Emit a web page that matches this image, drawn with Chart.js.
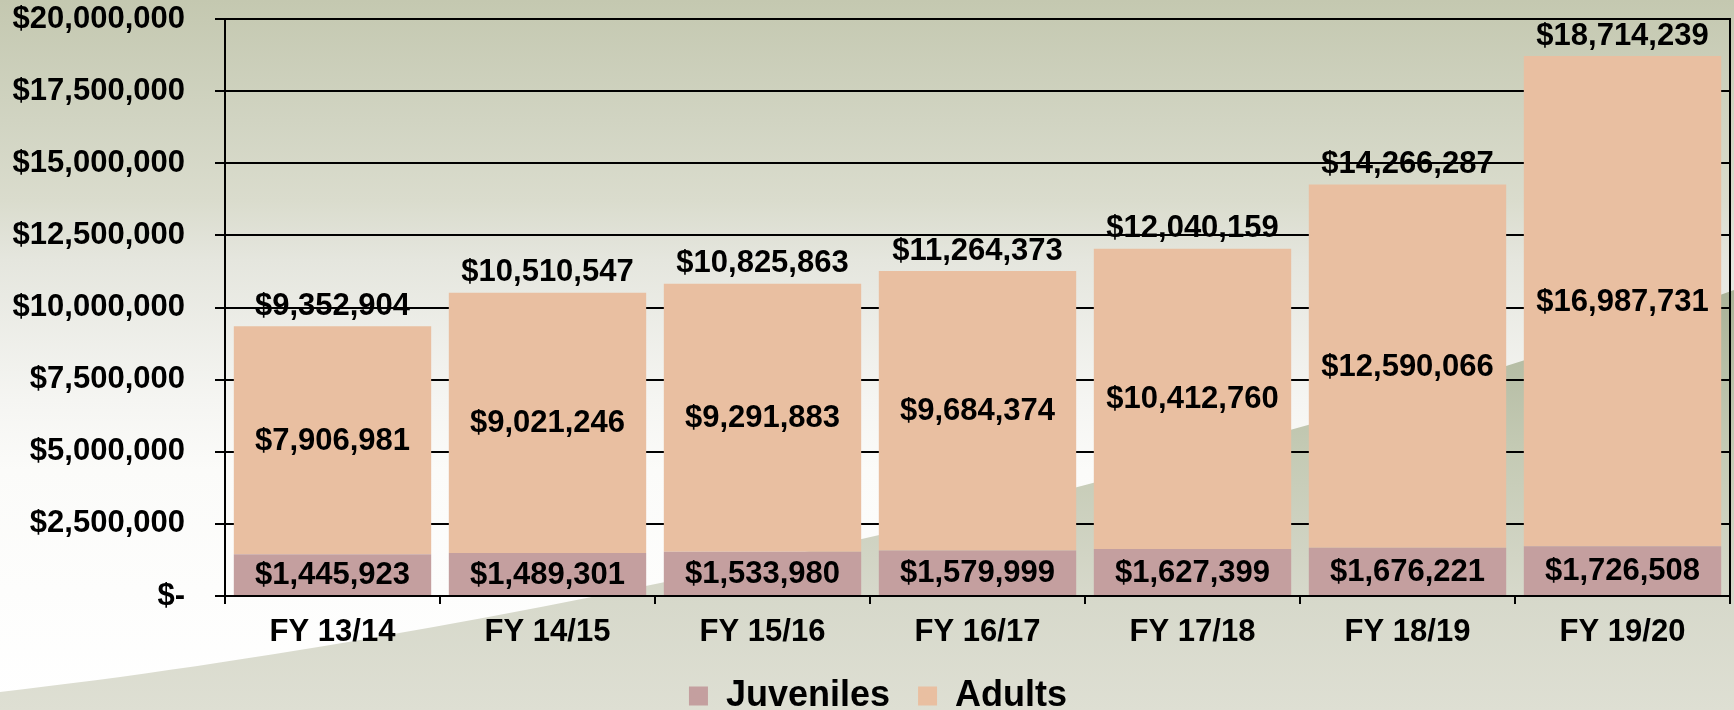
<!DOCTYPE html>
<html>
<head>
<meta charset="utf-8">
<script src="https://cdn.jsdelivr.net/npm/chart.js@4.4.0/dist/chart.umd.min.js"></script>
<style>
html,body{margin:0;padding:0;background:#fff;overflow:hidden}
#wrap{width:1734px;height:710px;position:relative}
</style>
</head>
<body>
<div id="wrap"><canvas id="c" width="1734" height="710"></canvas></div>
<script>
const categories = ['FY 13/14', 'FY 14/15', 'FY 15/16', 'FY 16/17', 'FY 17/18', 'FY 18/19', 'FY 19/20'];
const juveniles = [1445923, 1489301, 1533980, 1579999, 1627399, 1676221, 1726508];
const adults = [7906981, 9021246, 9291883, 9684374, 10412760, 12590066, 16987731];
const totals = [9352904, 10510547, 10825863, 11264373, 12040159, 14266287, 18714239];
const seriesNames = ['Juveniles', 'Adults'];
const yMin = 0, yMax = 20000000, yStep = 2500000;

const FONT = '"Liberation Sans", Arial, Helvetica, sans-serif';
const money = v => v === 0 ? '$-' : '$' + Math.round(v).toLocaleString('en-US');

const bgPlugin = {
  id: 'bg',
  beforeDraw(chart) {
    const { ctx, width, height } = chart;
    ctx.save();
    let g = ctx.createLinearGradient(0, 0, 0, height);
    g.addColorStop(0, '#c4c8b0');
    g.addColorStop(120 / 710, '#d1d4c2');
    g.addColorStop(200 / 710, '#dadccd');
    g.addColorStop(260 / 710, '#e5e6de');
    g.addColorStop(400 / 710, '#f5f5f2');
    g.addColorStop(470 / 710, '#fbfbf9');
    g.addColorStop(1, '#ffffff');
    ctx.fillStyle = g;
    ctx.fillRect(0, 0, width, height);
    ctx.beginPath();
    ctx.moveTo(0, 692);
    ctx.bezierCurveTo(500, 635, 1200, 480, 1734, 290);
    ctx.lineTo(1734, height);
    ctx.lineTo(0, height);
    ctx.closePath();
    g = ctx.createLinearGradient(0, 290, 0, height);
    g.addColorStop(0, '#aab297');
    g.addColorStop(90 / 420, '#b9c0a8');
    g.addColorStop(160 / 420, '#c4cab4');
    g.addColorStop(300 / 420, '#d6d8ca');
    g.addColorStop(1, '#dedfd3');
    ctx.fillStyle = g;
    ctx.fill();
    ctx.restore();
  }
};

const legendShift = {
  id: 'legendShift',
  afterLayout(chart) {
    if (chart.legend) { chart.legend.left += 13; chart.legend.right += 13; }
  }
};

const labelPlugin = {
  id: 'valueLabels',
  afterDatasetsDraw(chart) {
    const ctx = chart.ctx;
    ctx.save();
    ctx.font = 'bold 31px ' + FONT;
    ctx.fillStyle = '#000';
    ctx.textAlign = 'center';
    ctx.textBaseline = 'middle';
    chart.data.datasets.forEach((ds, di) => {
      const meta = chart.getDatasetMeta(di);
      meta.data.forEach((bar, i) => {
        ctx.fillText(money(ds.data[i]), bar.x, (bar.y + bar.base) / 2 + 1);
      });
    });
    const yScale = chart.scales.y;
    const topMeta = chart.getDatasetMeta(1);
    totals.forEach((t, i) => {
      ctx.fillText(money(t), topMeta.data[i].x, yScale.getPixelForValue(t) - 20);
    });
    ctx.restore();
  }
};

const tickFont = { family: FONT, size: 31, weight: 'bold' };

new Chart(document.getElementById('c'), {
  type: 'bar',
  data: {
    labels: categories,
    datasets: [
      { label: seriesNames[0], data: juveniles, backgroundColor: '#c49f9f', barPercentage: 0.918, categoryPercentage: 1.0 },
      { label: seriesNames[1], data: adults, backgroundColor: '#e9bfa1', barPercentage: 0.918, categoryPercentage: 1.0 }
    ]
  },
  options: {
    responsive: false,
    animation: false,
    devicePixelRatio: 1,
    layout: { padding: { top: 19, right: 4, left: 0, bottom: -14 } },
    plugins: {
      legend: {
        position: 'bottom',
        labels: {
          color: '#000',
          font: { family: FONT, size: 36, weight: 'bold' },
          boxWidth: 19,
          boxHeight: 19,
          padding: 28
        }
      },
      tooltip: { enabled: false }
    },
    scales: {
      x: {
        stacked: true,
        grid: { display: true, offset: true, drawOnChartArea: false, drawTicks: true, tickLength: 8, color: '#000', lineWidth: 2 },
        border: { display: true, color: '#000', width: 2 },
        ticks: { color: '#000', font: tickFont, padding: 10, maxRotation: 0 },
        afterFit: s => { s.height = 54; s.paddingLeft = 0; s.paddingRight = 0; }
      },
      y: {
        stacked: true,
        min: yMin,
        max: yMax,
        grid: { color: '#000', lineWidth: 2, tickLength: 10, drawTicks: true },
        border: { display: true, color: '#000', width: 2 },
        ticks: { stepSize: yStep, color: '#000', font: tickFont, padding: 30, callback: v => money(v) },
        afterFit: s => { s.width = 225; s.paddingTop = 0; s.paddingBottom = 0; }
      },
      y2: {
        position: 'right',
        display: true,
        grid: { display: false, drawTicks: false },
        ticks: { display: false },
        border: { display: true, color: '#000', width: 2 },
        afterFit: s => { s.width = 0; s.paddingTop = 0; s.paddingBottom = 0; }
      }
    }
  },
  plugins: [bgPlugin, legendShift, labelPlugin]
});
</script>
</body>
</html>
